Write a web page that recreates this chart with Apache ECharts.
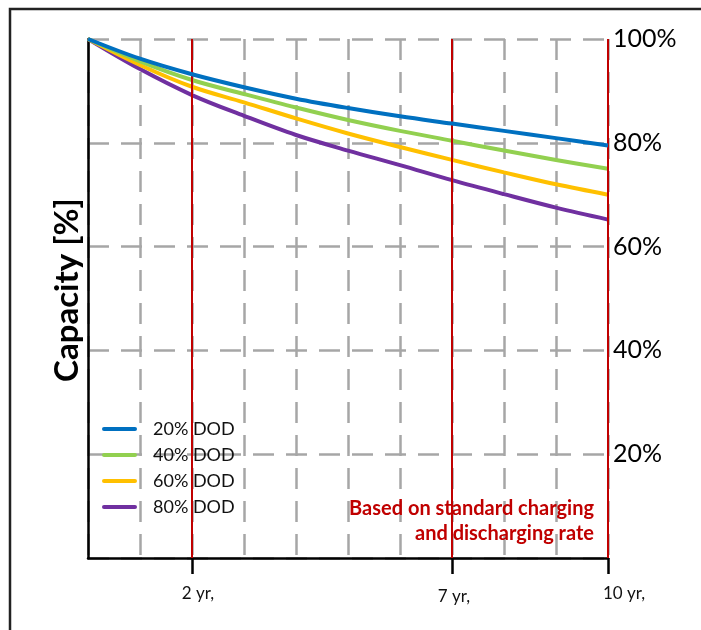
<!DOCTYPE html>
<html>
<head>
<meta charset="utf-8">
<script src="https://cdn.jsdelivr.net/npm/echarts@6/dist/echarts.min.js"></script>
<style>
html,body{margin:0;padding:0;background:#fff;}
#c{width:701px;height:630px;}
</style>
</head>
<body>
<div id="c"></div>
<script>
var years = [0, 1, 2, 3, 4, 5, 6, 7, 8, 9, 10];
var dod20 = [100, 96.2, 93.2, 90.7, 88.5, 86.7, 85.1, 83.7, 82.3, 80.9, 79.5];
var dod40 = [100, 95.7, 92.1, 89.4, 86.8, 84.4, 82.3, 80.4, 78.5, 76.7, 75.0];
var dod60 = [100, 95.0, 90.8, 87.8, 84.7, 81.8, 79.2, 76.7, 74.3, 72.0, 70.0];
var dod80 = [100, 94.2, 89.2, 85.2, 81.5, 78.5, 75.7, 72.8, 70.1, 67.5, 65.2];
var seriesNames = ['20% DOD', '40% DOD', '60% DOD', '80% DOD'];
var seriesColors = ['#0070c0', '#92d050', '#ffc000', '#7030a0'];
var markYears = [2, 7, 10];
var xTickLabels = ['2 yr,', '7 yr,', '10 yr,'];
var yTickValues = [20, 40, 60, 80, 100];
var yTitle = 'Capacity [%]';
var noteText = 'Based on standard charging\nand discharging rate';

var FONT = 'Lato';
function pairs(vals) { return years.map(function (y, i) { return [y, vals[i]]; }); }
var allVals = [dod20, dod40, dod60, dod80];
var lineIcon = 'path://M2,0 L33,0 A2,2 0 0 1 33,4 L2,4 A2,2 0 0 1 2,0 Z';

var series = allVals.map(function (vals, i) {
  return {
    name: seriesNames[i], type: 'line', data: pairs(vals), smooth: 0.35,
    symbol: 'none', z: 5 - i,
    lineStyle: { color: seriesColors[i], width: 4 },
    itemStyle: { color: seriesColors[i] }
  };
});
series.push({
  name: 'marks', type: 'line', data: [], z: 1, silent: true,
  markLine: {
    silent: true, symbol: ['none', 'none'], animation: false,
    label: { show: false },
    lineStyle: { color: '#c00000', width: 2, type: 'solid' },
    data: markYears.map(function (v) { return { xAxis: v }; })
  }
});

var richKeys = ['a', 'b', 'c'];
var dash = { color: '#a6a6a6', width: 2.5, type: [21, 12] };
var chart = echarts.init(document.getElementById('c'));
chart.setOption({
  backgroundColor: '#fff',
  animation: false,
  grid: { left: 88, right: 93, top: 39, bottom: 72, containLabel: false },
  legend: {
    orient: 'vertical', left: 102, top: 420, padding: 0,
    itemWidth: 35, itemHeight: 4, itemGap: 8,
    data: seriesNames.map(function (n) { return { name: n, icon: lineIcon }; }),
    textStyle: { fontFamily: FONT, fontSize: 18, color: '#111', lineHeight: 18, padding: [0, 0, 0, 11] }
  },
  xAxis: [{
    type: 'value', min: 0, max: 10, interval: 1,
    axisLine: { show: true, lineStyle: { color: '#000', width: 2.5 } },
    axisTick: { show: true, customValues: markYears, length: 16, lineStyle: { color: '#000', width: 2.5 } },
    axisLabel: {
      show: true, customValues: markYears, margin: 27,
      fontFamily: FONT, fontSize: 17, color: '#111',
      formatter: function (v) {
        var i = markYears.indexOf(v);
        return i < 0 ? '' : '{' + richKeys[i] + '|' + xTickLabels[i] + '}';
      },
      rich: {
        a: { fontFamily: FONT, fontSize: 17, color: '#111', padding: [0, 0, 0, 12] },
        b: { fontFamily: FONT, fontSize: 17, color: '#111', padding: [3, 0, 0, 4] },
        c: { fontFamily: FONT, fontSize: 17, color: '#111', padding: [0, 0, 0, 32] }
      }
    },
    splitLine: { show: false }
  }, {
    type: 'value', min: 0, max: 10, interval: 1, position: 'bottom',
    axisLine: { show: false }, axisTick: { show: false }, axisLabel: { show: false },
    splitLine: { show: true, lineStyle: dash }
  }],
  yAxis: [{
    type: 'value', min: 0, max: 100, interval: 20, position: 'left',
    axisLine: { show: true, lineStyle: { color: '#000', width: 2.5 } },
    axisTick: { show: false },
    axisLabel: { show: false },
    splitLine: { show: true, lineStyle: dash }
  }, {
    type: 'value', min: 0, max: 100, interval: 20, position: 'right',
    axisLine: { show: false },
    axisTick: { show: false },
    splitLine: { show: false },
    axisLabel: {
      show: true, customValues: yTickValues, margin: 5,
      fontFamily: FONT, fontSize: 25, color: '#000',
      formatter: function (v) { return v + '%'; }
    }
  }],
  series: series,
  graphic: [
    { type: 'rect', z: 100, silent: true, shape: { x: 10, y: 9, width: 900, height: 900 },
      style: { fill: 'none', stroke: '#222', lineWidth: 2.5 } },
    { type: 'text', x: 67, y: 290, rotation: Math.PI / 2, z: 100,
      style: { text: yTitle, textAlign: 'center', textVerticalAlign: 'middle',
        font: 'bold 33px ' + FONT, fill: '#000' } },
    { type: 'text', x: 594, y: 521, z: 100,
      style: { text: noteText, textAlign: 'right', textVerticalAlign: 'middle',
        font: 'bold 20px ' + FONT, fill: '#c00000', lineHeight: 25 } }
  ]
});
</script>
</body>
</html>
